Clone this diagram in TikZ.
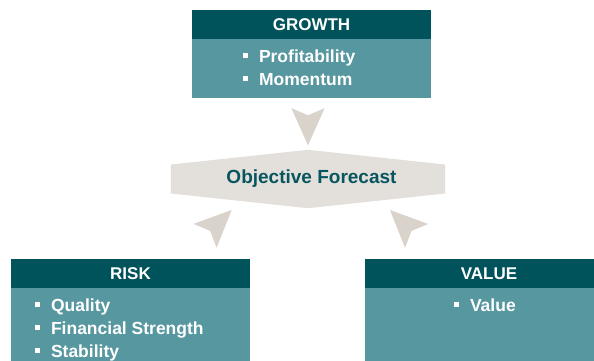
\documentclass[tikz,border=0pt]{standalone}
\usepackage{fontspec}
\setmainfont{Liberation Sans}
\usetikzlibrary{arrows.meta,positioning,backgrounds}

\definecolor{headteal}{HTML}{00525B}
\definecolor{bodyteal}{HTML}{5697A0}
\definecolor{hexgrey}{HTML}{E3E0DB}
\definecolor{feedgrey}{HTML}{D9D3CC}
\definecolor{forecastteal}{HTML}{07555E}

\newcommand{\sqitem}{\rule[4pt]{5pt}{5pt}\hspace{11pt}}

\tikzset{
  headbox/.style={fill=headteal,text=white,minimum width=239pt,minimum height=29pt,inner sep=0pt,font=\fontsize{17pt}{20pt}\selectfont\bfseries},
  bodybox/.style={fill=bodyteal,minimum width=239pt,inner sep=0pt},
  itemlist/.style={align=left,text=white,inner sep=0pt,font=\fontsize{17.5pt}{23pt}\selectfont\bfseries},
  feed/.style={draw=feedgrey,line width=1pt,-{Stealth[length=37pt,width=33pt,inset=7pt]}}
}

\begin{document}
\begin{tikzpicture}[x=1pt,y=-1pt]
\useasboundingbox (0,0) rectangle (594,360);
\clip (0,0) rectangle (594,360);
\node[headbox] (growth_head) at (311.5,24.5) {GROWTH};
\node[bodybox,minimum height=59pt,below=0pt of growth_head] (growth_body) {};
\node[itemlist,below right=10pt and 51pt of growth_head.south west] (growth_list) {\sqitem Profitability\\\sqitem Momentum};
\node[headbox] (risk_head) at (130.5,273.5) {RISK};
\node[bodybox,minimum height=80pt,below=0pt of risk_head] (risk_body) {};
\node[itemlist,below right=10pt and 24pt of risk_head.south west] (risk_list) {\sqitem Quality\\\sqitem Financial Strength\\\sqitem Stability};
\node[headbox,minimum width=248pt] (value_head) at (489,273.5) {VALUE};
\node[bodybox,minimum width=248pt,minimum height=80pt,below=0pt of value_head] (value_body) {};
\node[itemlist,below right=10pt and 89pt of value_head.south west] (value_list) {\sqitem Value};
\node[font=\fontsize{19pt}{22pt}\selectfont\bfseries,text=forecastteal,minimum width=274pt,minimum height=58pt,inner sep=0pt] (forecast) at (308,179) {\hspace*{7pt}Objective Forecast};
\begin{scope}[on background layer]
\fill[hexgrey] ([yshift=14.5pt]forecast.west) -- (forecast.north) -- ([yshift=14.5pt]forecast.east) -- ([yshift=-14.5pt]forecast.east) -- (forecast.south) -- ([yshift=-14.5pt]forecast.west) -- cycle;
\end{scope}
\coordinate (growth_feed) at (308,115.5);
\coordinate (risk_feed) at (210,231);
\coordinate (risk_tip) at (231.7,210);
\coordinate (value_feed) at (411.6,231);
\coordinate (value_tip) at (390,210);
\draw[feed] (growth_feed) -- ([yshift=4.5pt]forecast.north);
\draw[feed] (risk_feed) -- (risk_tip);
\draw[feed] (value_feed) -- (value_tip);
\end{tikzpicture}
\end{document}
